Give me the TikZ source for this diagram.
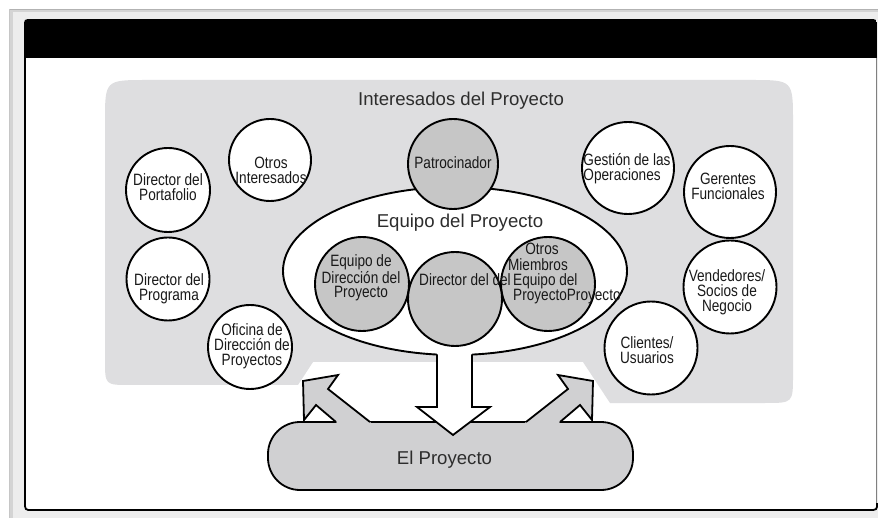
\documentclass[tikz,border=0pt]{standalone}
\usepackage{fontspec}
\setmainfont{Liberation Sans}
\newfontfamily\narrowfont[FakeStretch=0.83]{Liberation Sans}
\usetikzlibrary{shapes.geometric}
\definecolor{regiongray}{RGB}{222,222,224}
\definecolor{circgray}{RGB}{198,198,198}
\definecolor{projgray}{RGB}{208,208,210}
\definecolor{txt}{RGB}{25,25,25}
\definecolor{bigtxt}{RGB}{45,45,45}
\definecolor{framegray}{RGB}{212,212,212}
\begin{document}
\begin{tikzpicture}[x=1pt,y=-1pt,
  wc/.style={circle,draw=black,line width=1.9pt,fill=white,inner sep=0pt},
  gc/.style={wc,fill=circgray},
  ctext/.style={font=\narrowfont\fontsize{16.4}{14.8}\selectfont,text=txt,align=center,inner sep=0pt},
  big/.style={font=\fontsize{18.6}{22}\selectfont,text=bigtxt,inner sep=0pt},
  outl/.style={draw=black,line width=1.8pt,line join=miter},
]
\useasboundingbox (0,0) rectangle (878,518);
\fill[white] (0,0) rectangle (878,518);
% outer frame
\fill[framegray] (9,9) rectangle (878,518);
\fill[white!93!black] (13,12) rectangle (878,518);
\draw[gray!60, line width=1pt] (9,9.5) -- (878,9.5);
\draw[gray!45, line width=1pt] (9.5,9) -- (9.5,518);
% inner box
\path (877,58) coordinate (bx1) (24,19) coordinate (bx0);
\begin{scope}
\clip (877,27) -- (877,502) .. controls (877,510) .. (869,510) -- (32,510)
  .. controls (24,510) .. (24,502) -- (24,27) .. controls (24,19) .. (32,19)
  -- (869,19) .. controls (877,19) .. (877,27) -- cycle;
\fill[white] (24,19) rectangle (877,510);
\fill[black] (bx0) rectangle (bx1);
\end{scope}
\draw[black, line width=1.8pt] (877,503) .. controls (877,510) .. (869,510) -- (32,510)
  .. controls (25,510) .. (25,502) -- (25,40);
\draw[gray, line width=0.8pt] (876.5,58) -- (876.5,503);
% stakeholders region
\fill[regiongray] (105,360) -- (105,122) .. controls (105,80) .. (147,80) -- (751,80)
  .. controls (793,80) .. (793,122) -- (793,375) .. controls (793,403) .. (765,403)
  -- (610,403) -- (583,362) -- (313,362) -- (298,385) -- (130,385)
  .. controls (105,385) .. (105,360) -- cycle;
% the project
\node[draw=black, line width=1.8pt, fill=projgray, rounded corners=32pt,
  minimum width=365pt, minimum height=68pt, inner sep=0pt] (proj) at (450.5,456) {};
% side arrows
\fill[projgray] (303,381) -- (338,375) -- (328,389) -- (375,426) -- (340.7,426) -- (316,405) -- (304,420) -- cycle;
\draw[outl] (370,422) -- (328,389) -- (338,375) -- (303,381) -- (304,420) -- (316,405) -- (336,422);
\fill[projgray] (593,381) -- (558,375) -- (568,389) -- (521,426) -- (555.3,426) -- (580,405) -- (592,420) -- cycle;
\draw[outl] (526,422) -- (568,389) -- (558,375) -- (593,381) -- (592,420) -- (580,405) -- (560,422);
% team ellipse
\node[ellipse, draw=black, line width=1.9pt, fill=white, minimum width=344pt,
  minimum height=168pt, inner sep=0pt] (team) at (455,271) {};
% down arrow
\fill[white] (437,350) -- (437,407) -- (417,407) -- (453,435) -- (490,407) -- (472,407) -- (472,350) -- cycle;
\draw[outl] (437,354.3) -- (437,407) -- (417,407) -- (453,435) -- (490,407) -- (472,407) -- (472,354.3);
% circles
\node[wc,minimum size=84pt] (cPort) at (168,190) {};
\node[wc,minimum size=82pt] (cOtrosI) at (270,160) {};
\node[wc,minimum size=83pt] (cProg) at (168,279) {};
\node[wc,minimum size=84pt] (cOfi) at (250,347) {};
\node[gc,minimum size=90pt] (cPat) at (453,164) {};
\node[wc,minimum size=92pt] (cGest) at (628,168) {};
\node[wc,minimum size=92pt] (cGer) at (730,192) {};
\node[wc,minimum size=93pt] (cVend) at (730,287) {};
\node[wc,minimum size=93pt] (cCli) at (651,348) {};
\node[gc,minimum size=94pt] (cEqD) at (362,284) {};
\node[gc,minimum size=94pt] (cOM) at (548,284) {};
\node[gc,minimum size=94pt] (cDir) at (455,299) {};
% texts
\node[big,anchor=base] (tInt) at (461,106) {Interesados del Proyecto};
\node[big,anchor=base] (tEq) at (460,228) {Equipo del Proyecto};
\node[big,anchor=base] (tEl) at (444.5,464) {El Proyecto};
\node[ctext] (tPort) at (168,187) {Director del\\Portafolio};
\node[ctext] (tOtrosI) at (271,170) {Otros\\Interesados};
\node[ctext] (tProg) at (169,289) {Director del\\Programa};
\node[ctext] (tOfi) at (252,346) {Oficina de\\Dirección de\\Proyectos};
\node[ctext] (tPat) at (453,163) {Patrocinador};
\node[ctext,align=left] (tGest) at (627,169) {Gestión de las\\Operaciones};
\node[ctext] (tGer) at (728,186) {Gerentes\\Funcionales};
\node[ctext] (tVend) at (727,292) {Vendedores/\\Socios de\\Negocio};
\node[ctext] (tCli) at (647,350) {Clientes/\\Usuarios};
\node[ctext] (tEqD) at (361,278) {Equipo de\\Dirección del\\Proyecto};
\node[ctext,anchor=base west] (tDir) at (419,286) {Director del del};
\node[ctext,anchor=base] (tOM1) at (542,255) {Otros};
\node[ctext,anchor=base] (tOM2) at (538,271) {Miembros};
\node[ctext,anchor=base west] (tOM3) at (513,286) {Equipo del};
\node[ctext,anchor=base west] (tOM4) at (513,301) {ProyectoProyecto};
\end{tikzpicture}
\end{document}
